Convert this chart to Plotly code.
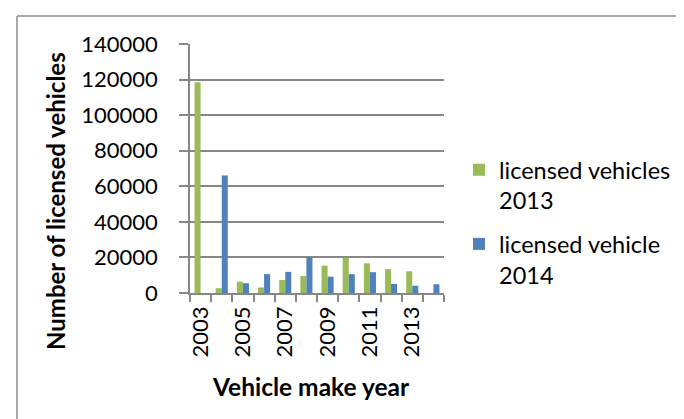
import plotly.graph_objects as go

years = [2003, 2004, 2005, 2006, 2007, 2008, 2009, 2010, 2011, 2012, 2013, 2014]
licensed_2013 = [118500, 2700, 6400, 3100, 7300, 9600, 15400, 19800, 16700, 13400, 12200, 0]
licensed_2014 = [0, 66100, 5500, 10600, 11900, 20100, 9200, 10600, 11700, 5100, 4100, 4900]
x_tick_years = [2003, 2005, 2007, 2009, 2011, 2013]
y_ticks = [0, 20000, 40000, 60000, 80000, 100000, 120000, 140000]

W, H = 684, 419
L, R, T, B = 182, 248, 36, 134
PW, PH = W - L - R, H - T - B

def px(x):
    return (x - L) / PW

def py(y):
    return (H - B - y) / PH

FONT = "Lato"
GRID = "#878787"

fig = go.Figure()
fig.add_trace(go.Bar(x=years, y=licensed_2013, name="licensed vehicles<br>2013",
                     legendgroup="g1",
                     marker=dict(color="#9BBB59", line=dict(width=0))))
fig.add_trace(go.Bar(x=years, y=licensed_2014, name="licensed vehicle<br>2014",
                     legendgroup="g2",
                     marker=dict(color="#4F81BD", line=dict(width=0))))

fig.update_layout(
    width=W, height=H,
    margin=dict(l=L, r=R, t=T, b=B, pad=0),
    paper_bgcolor="white", plot_bgcolor="white",
    barmode="group", bargap=0.4286, bargroupgap=0,
    font=dict(family=FONT, size=22, color="black"),
    showlegend=True,
    legend=dict(x=px(451), xanchor="left", y=py(140), yanchor="top",
                font=dict(family=FONT, size=23.5, color="black"),
                valign="top", itemwidth=30, tracegroupgap=10,
                traceorder="grouped",
                bgcolor="rgba(0,0,0,0)", borderwidth=0),
)

fig.update_xaxes(
    range=[2002.5, 2014.5],
    tickmode="array", tickvals=x_tick_years, ticktext=[str(v) for v in x_tick_years],
    tickangle=-90, ticks="", ticklen=0, ticklabelstandoff=3,
    tickfont=dict(family=FONT, size=22, color="black"),
    showgrid=False, zeroline=False,
    showline=True, linecolor=GRID, linewidth=1.5,
    minor=dict(tickmode="linear", tick0=2002.5, dtick=1, ticks="outside",
               ticklen=7, tickwidth=1.5, tickcolor=GRID, showgrid=False),
)
fig.update_yaxes(
    range=[0, 140000],
    tickmode="array", tickvals=y_ticks, ticktext=[str(v) for v in y_ticks],
    ticks="outside", ticklen=9, tickwidth=1.5, tickcolor=GRID,
    ticklabelstandoff=17,
    tickfont=dict(family=FONT, size=22, color="black"),
    showgrid=True, gridcolor=GRID, gridwidth=1.5,
    zeroline=False,
    showline=True, linecolor=GRID, linewidth=1.5,
)

fig.add_annotation(text="<b>Number of licensed vehicles</b>", textangle=-90,
                   xref="paper", yref="paper", x=px(47), y=py(193),
                   xanchor="center", yanchor="middle", showarrow=False,
                   font=dict(family=FONT, size=24, color="black"))
fig.add_annotation(text="<b>Vehicle make year</b>",
                   xref="paper", yref="paper", x=px(303), y=py(378),
                   xanchor="center", yanchor="middle", showarrow=False,
                   font=dict(family=FONT, size=24.5, color="black"))

# chart-area frame (left and top edges visible in the reference)
fig.add_shape(type="line", xref="paper", yref="paper",
              x0=px(9), y0=py(8), x1=px(9), y1=py(H + 5),
              line=dict(color="#8C8C8C", width=1.5))
fig.add_shape(type="line", xref="paper", yref="paper",
              x0=px(9), y0=py(8), x1=px(W + 5), y1=py(8),
              line=dict(color="#8C8C8C", width=1.5))

fig.write_html("out.html")
